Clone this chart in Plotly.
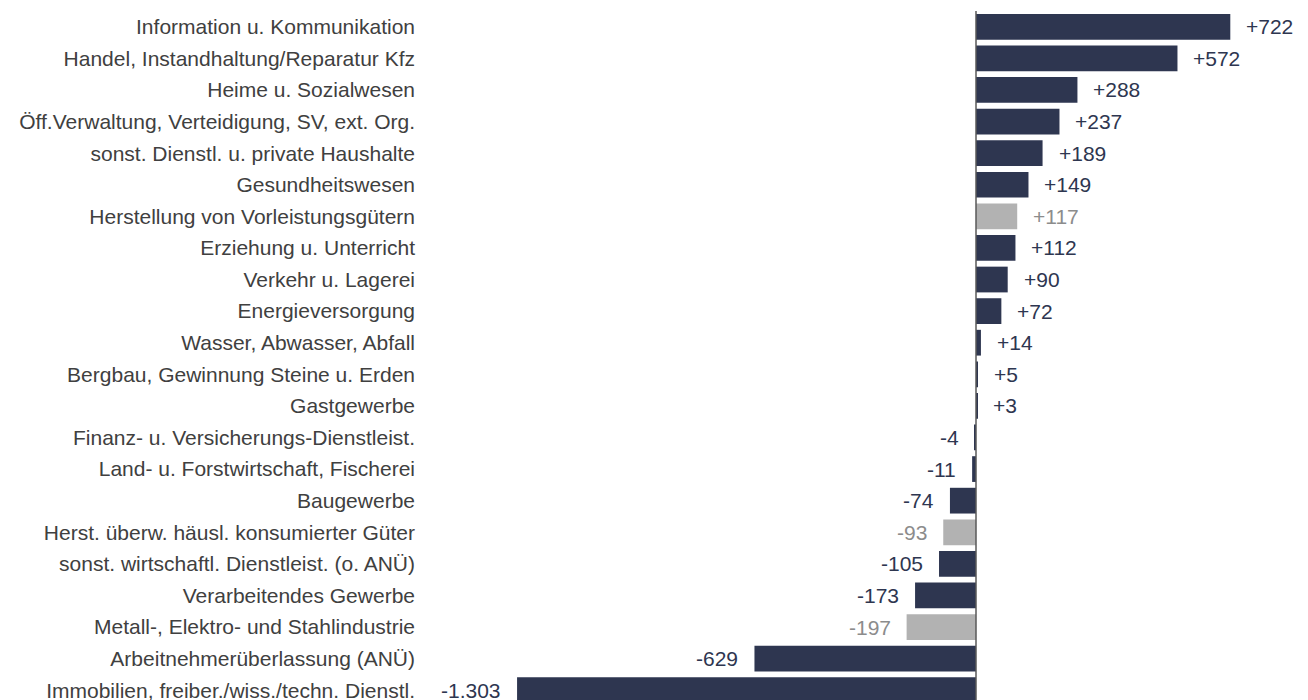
import plotly.graph_objects as go

categories = [
    "Information u. Kommunikation",
    "Handel, Instandhaltung/Reparatur Kfz",
    "Heime u. Sozialwesen",
    "Öff.Verwaltung, Verteidigung, SV, ext. Org.",
    "sonst. Dienstl. u. private Haushalte",
    "Gesundheitswesen",
    "Herstellung von Vorleistungsgütern",
    "Erziehung u. Unterricht",
    "Verkehr u. Lagerei",
    "Energieversorgung",
    "Wasser, Abwasser, Abfall",
    "Bergbau, Gewinnung Steine u. Erden",
    "Gastgewerbe",
    "Finanz- u. Versicherungs-Dienstleist.",
    "Land- u. Forstwirtschaft, Fischerei",
    "Baugewerbe",
    "Herst. überw. häusl. konsumierter Güter",
    "sonst. wirtschaftl. Dienstleist. (o. ANÜ)",
    "Verarbeitendes Gewerbe",
    "Metall-, Elektro- und Stahlindustrie",
    "Arbeitnehmerüberlassung (ANÜ)",
    "Immobilien, freiber./wiss./techn. Dienstl.",
]
values = [722, 572, 288, 237, 189, 149, 117, 112, 90, 72, 14, 5, 3,
          -4, -11, -74, -93, -105, -173, -197, -629, -1303]
# sub-sector rows shown in grey
is_sub = [False, False, False, False, False, False, True, False, False, False, False,
          False, False, False, False, False, True, False, False, True, False, False]

NAVY = "#2e3650"
GREY_BAR = "#b2b2b2"
GREY_TXT = "#8c8c8c"
FONT = "Liberation Sans, Arial, sans-serif"


def fmt(v):
    s = f"{abs(v):,}".replace(",", ".")
    return ("+" if v > 0 else "-") + s


ypos = list(range(len(categories)))
bar_colors = [GREY_BAR if g else NAVY for g in is_sub]

fig = go.Figure()
fig.add_trace(go.Bar(
    x=values, y=ypos, orientation="h",
    marker=dict(color=bar_colors, line=dict(width=0)),
    width=0.815, hoverinfo="skip",
))

for v, y, g in zip(values, ypos, is_sub):
    fig.add_annotation(
        x=v, y=y, xref="x", yref="y", text=fmt(v), showarrow=False,
        xanchor="left" if v > 0 else "right",
        xshift=14 if v > 0 else -14,
        font=dict(family=FONT, size=21, color=GREY_TXT if g else NAVY),
    )

fig.add_shape(type="line", xref="x", yref="paper", x0=0, x1=0, y0=0, y1=1,
              line=dict(color="#595959", width=1.5), layer="above")

fig.update_layout(
    width=1308, height=700,
    margin=dict(l=412, r=8, t=3, b=8),
    paper_bgcolor="white", plot_bgcolor="white",
    showlegend=False,
    font=dict(family=FONT, size=21, color="#404040"),
    xaxis=dict(range=[-1578.6, 942.6], visible=False, showgrid=False, zeroline=False),
    yaxis=dict(range=[21.31, -0.5], tickvals=ypos, ticktext=categories,
               showgrid=False, zeroline=False, showline=False, ticks="",
               ticklabelstandoff=4, automargin=False,
               tickfont=dict(family=FONT, size=21, color="#404040")),
)

fig.write_html("out.html")
